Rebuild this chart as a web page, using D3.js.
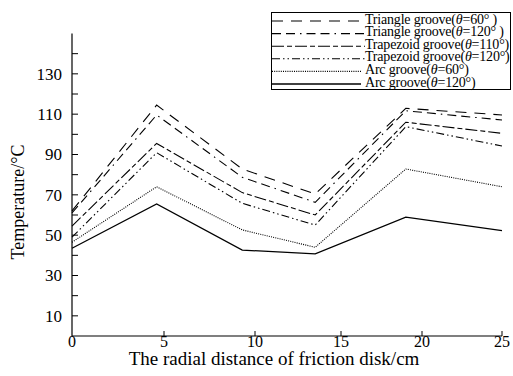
<!DOCTYPE html>
<html>
<head>
<meta charset="utf-8">
<script src="https://cdn.jsdelivr.net/npm/d3@7"></script>
<style>
	body { margin: 0; background: #fff; }
	text { font-family: 'Liberation Serif', 'Times New Roman', serif; fill: #000; }
</style>
</head>
<body>
<svg id="chart" width="513" height="376"></svg>
<script>
// radial distance (cm) where temperatures were measured
const distances = [0, 4.6, 9.3, 13.5, 19, 25]

const triangle60 = [62, 114.5, 82.8, 70.4, 112.9, 109.6]
const triangle120 = [61, 109.6, 78.7, 66.3, 111.7, 107.1]
const trapezoid110 = [54.5, 95.5, 71.1, 60, 106, 100.5]
const trapezoid120 = [49, 90.9, 65.8, 55, 103.8, 94.2]
const arc60 = [46.5, 74, 52.6, 44, 82.8, 74]
const arc120 = [43.5, 65.5, 42.6, 40.7, 58.9, 52.2]

const seriesNames = [
	['Triangle groove(', '=60° )'],
	['Triangle groove(', '=120° )'],
	['Trapezoid groove(', '=110°)'],
	['Trapezoid groove(', '=120°)'],
	[' Arc groove(', '=60°)'],
	[' Arc groove(', '=120°)']
]

const xTicks = [0, 5, 10, 15, 20, 25]
const yLabelTicks = [10, 30, 50, 70, 90, 110, 130]
const yTicks = d3.range(10, 150, 10)

const series = [triangle60, triangle120, trapezoid110, trapezoid120, arc60, arc120]
const dashes = ['11,8', '9,5,9,5,1.5,5', '12,3,5,3', '8,3,1.5,3,1.5,3', '1,1.2', null]

const svg = d3.select('#chart')

// the original axis spacing is not uniform, so map each tick separately
const x = d3.scaleLinear().domain(xTicks).range([72, 164, 255, 341, 422, 502])
const y = d3.scaleLinear().domain([0, 150]).range([336, 33.5])

const line = d3
	.line()
	.x((d, i) => x(distances[i]))
	.y((d) => y(d))

svg
	.selectAll('path.series')
	.data(series)
	.join('path')
	.attr('class', 'series')
	.attr('d', line)
	.attr('fill', 'none')
	.attr('stroke', '#000')
	.attr('stroke-width', (d, i) => (i === 5 ? 1.3 : 1.1))
	.attr('stroke-dasharray', (d, i) => dashes[i])

// y axis
const yAxis = svg.append('g')
yAxis
	.append('line')
	.attr('x1', 72)
	.attr('x2', 72)
	.attr('y1', y(150))
	.attr('y2', y(0))
	.attr('stroke', '#000')
	.attr('stroke-width', 1.2)
yAxis
	.selectAll('line.tick')
	.data(yTicks)
	.join('line')
	.attr('class', 'tick')
	.attr('x1', 72)
	.attr('x2', 78)
	.attr('y1', (d) => y(d))
	.attr('y2', (d) => y(d))
	.attr('stroke', '#000')
yAxis
	.selectAll('text')
	.data(yLabelTicks)
	.join('text')
	.attr('x', 62)
	.attr('y', (d) => y(d))
	.attr('dy', '0.34em')
	.attr('text-anchor', 'end')
	.style('font-size', '17px')
	.text((d) => d)

// x axis
const xAxis = svg.append('g')
xAxis
	.append('line')
	.attr('x1', x(0))
	.attr('x2', x(25))
	.attr('y1', 336)
	.attr('y2', 336)
	.attr('stroke', '#000')
	.attr('stroke-width', 1.2)
xAxis
	.selectAll('line.tick')
	.data(xTicks.slice(1))
	.join('line')
	.attr('class', 'tick')
	.attr('x1', (d) => x(d))
	.attr('x2', (d) => x(d))
	.attr('y1', 336)
	.attr('y2', 331)
	.attr('stroke', '#000')
xAxis
	.selectAll('text')
	.data(xTicks)
	.join('text')
	.attr('x', (d) => x(d))
	.attr('y', 347)
	.attr('text-anchor', 'middle')
	.style('font-size', '16px')
	.text((d) => d)

svg
	.append('text')
	.attr('x', 274)
	.attr('y', 365)
	.attr('text-anchor', 'middle')
	.style('font-size', '19px')
	.text('The radial distance of friction disk/cm')

svg
	.append('text')
	.attr('transform', 'translate(24,202) rotate(-90)')
	.attr('text-anchor', 'middle')
	.style('font-size', '18px')
	.text('Temperature/°C')

// legend
const legend = svg.append('g')
legend
	.append('rect')
	.attr('x', 271.5)
	.attr('y', 12.5)
	.attr('width', 239)
	.attr('height', 77)
	.attr('fill', '#fff')
	.attr('stroke', '#000')
	.attr('stroke-width', 1)

const rows = legend
	.selectAll('g.row')
	.data(seriesNames)
	.join('g')
	.attr('class', 'row')
	.attr('transform', (d, i) => `translate(0,${19 + i * 12.6})`)

rows
	.append('line')
	.attr('x1', 272)
	.attr('x2', (d, i) => (i < 4 ? 365 : 361))
	.attr('y1', 2)
	.attr('y2', 2)
	.attr('stroke', '#000')
	.attr('stroke-width', (d, i) => (i === 5 ? 1.3 : 1.1))
	.attr('stroke-dasharray', (d, i) => dashes[i])

const labels = rows
	.append('text')
	.attr('x', 365)
	.attr('y', 4.5)
	.style('font-size', '14px')
	.style('letter-spacing', '-0.2px')
labels.append('tspan').text((d) => d[0])
labels
	.append('tspan')
	.style('font-style', 'italic')
	.text('θ')
labels.append('tspan').text((d) => d[1])
</script>
</body>
</html>
